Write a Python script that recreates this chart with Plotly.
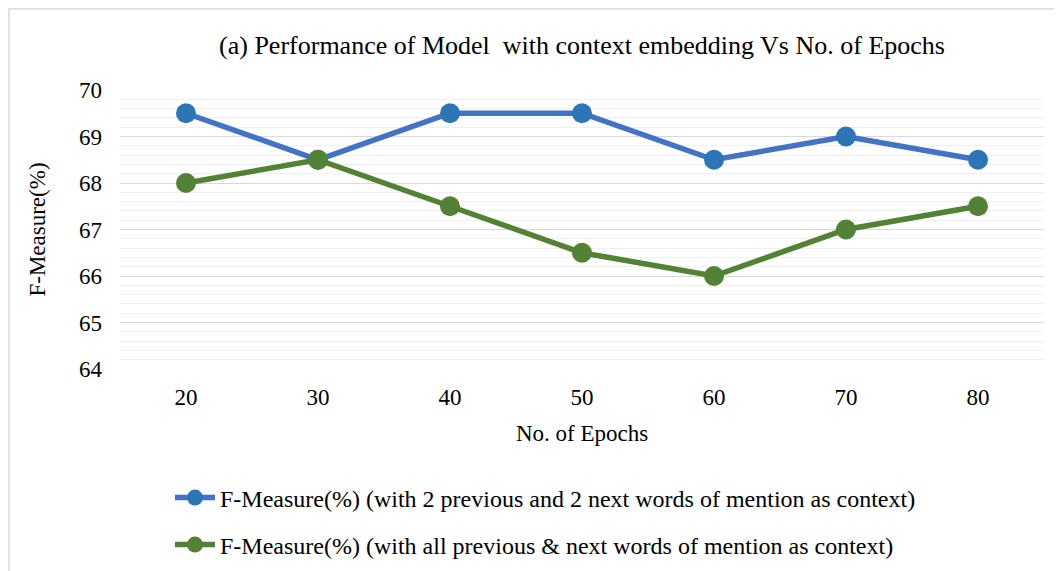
import plotly.graph_objects as go

epochs = [20, 30, 40, 50, 60, 70, 80]
epoch_labels = ["20", "30", "40", "50", "60", "70", "80"]
f_two_words = [69.5, 68.5, 69.5, 69.5, 68.5, 69.0, 68.5]
f_all_words = [68.0, 68.5, 67.5, 66.5, 66.0, 67.0, 67.5]
name_two = "F-Measure(%) (with 2 previous and 2 next words of mention as context)"
name_all = "F-Measure(%) (with all previous & next words of mention as context)"

FONT = "Liberation Serif, Times New Roman, serif"

fig = go.Figure()
fig.add_trace(go.Scatter(
    x=epoch_labels, y=f_two_words, mode="lines+markers", name=name_two,
    line=dict(color="#4472C4", width=5.5),
    marker=dict(color="#2E75B6", size=20, line=dict(width=0)),
    legend="legend",
))
fig.add_trace(go.Scatter(
    x=epoch_labels, y=f_all_words, mode="lines+markers", name=name_all,
    line=dict(color="#548235", width=5.5),
    marker=dict(color="#538135", size=20, line=dict(width=0)),
    legend="legend2",
))

# page body has an 8px margin; work in page coordinates
OFF = 8
PL, PR, PT, PB = 120, 1044, 90, 369   # plot area in page px
W, H = 1062 - OFF, 571 - OFF
pw, ph = PR - PL, PB - PT

def px2x(px):
    return (px - PL) / pw

def px2y(py):
    return (PB - py) / ph

fig.update_layout(
    width=W, height=H,
    margin=dict(l=PL - OFF, r=W - (PR - OFF), t=PT - OFF, b=H - (PB - OFF), autoexpand=False),
    paper_bgcolor="white", plot_bgcolor="white",
    font=dict(family=FONT, size=23, color="#000000"),
    title=dict(text="(a) Performance of Model  with context embedding Vs No. of Epochs",
               x=0.5, xref="paper", xanchor="center", y=1 - (45 - OFF) / H, yanchor="middle",
               font=dict(family=FONT, size=26, color="#000000")),
    xaxis=dict(type="category", range=[-0.5, 6.5], showgrid=False, zeroline=False, showline=False,
               ticks="", tickfont=dict(size=23), ticklabelstandoff=12,
               title=dict(text="No. of Epochs", font=dict(size=23), standoff=15)),
    yaxis=dict(range=[64, 70], dtick=1, showgrid=True, gridcolor="#D9D9D9", gridwidth=1.3,
               zeroline=False, showline=False, ticks="", tickfont=dict(size=23),
               ticklabelstandoff=17,
               minor=dict(dtick=0.2, showgrid=True, gridcolor="#F0F0F0", gridwidth=1),
               title=dict(text="F-Measure(%)", font=dict(size=23), standoff=26)),
    legend=dict(x=px2x(170), xanchor="left", y=px2y(498), yanchor="middle",
                bgcolor="rgba(0,0,0,0)", font=dict(size=24), itemwidth=40),
    legend2=dict(x=px2x(170), xanchor="left", y=px2y(545), yanchor="middle",
                 bgcolor="rgba(0,0,0,0)", font=dict(size=24), itemwidth=40),
    showlegend=True,
    shapes=[dict(type="rect", xref="paper", yref="paper",
                 x0=px2x(9), x1=px2x(1075), y0=px2y(585), y1=px2y(9),
                 line=dict(color="#D9D9D9", width=1.5), fillcolor="rgba(0,0,0,0)", layer="below")],
)

fig.write_html("out.html")
